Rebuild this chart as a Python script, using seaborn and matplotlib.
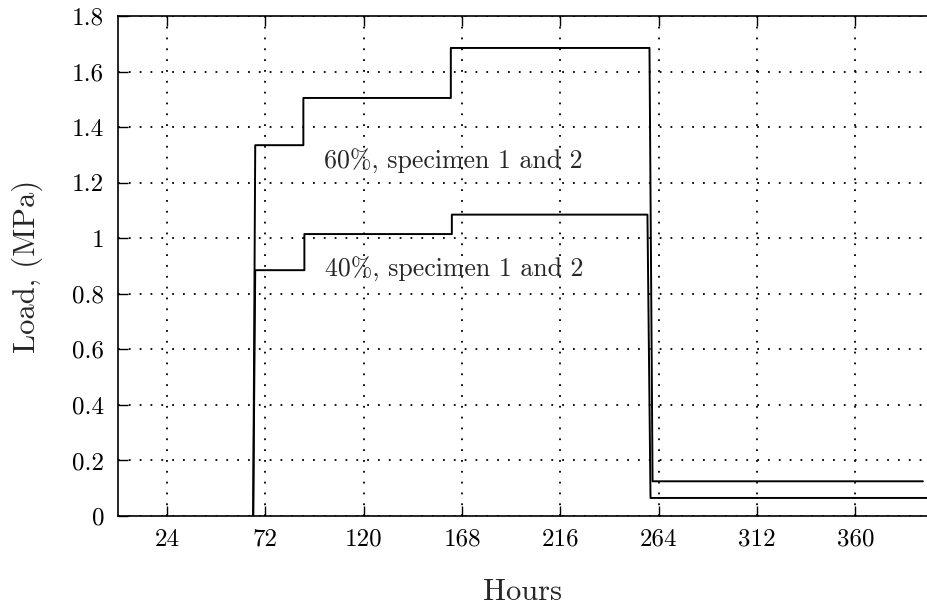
import matplotlib
matplotlib.use("Agg")
import matplotlib.pyplot as plt
import seaborn as sns
import pandas as pd

# ---- data ----
hours_60 = [66, 67, 90.5, 90.5, 162.5, 162.5, 259.5, 261, 393]
load_60 = [0.0, 1.335, 1.335, 1.505, 1.505, 1.685, 1.685, 0.125, 0.125]
hours_40 = [66, 67, 91, 91, 163, 163, 258.5, 260, 396]
load_40 = [0.0, 0.885, 0.885, 1.015, 1.015, 1.085, 1.085, 0.065, 0.065]

x_ticks = [24, 72, 120, 168, 216, 264, 312, 360]
y_ticks = [0, 0.2, 0.4, 0.6, 0.8, 1.0, 1.2, 1.4, 1.6, 1.8]
y_tick_labels = ["0", "0.2", "0.4", "0.6", "0.8", "1", "1.2", "1.4", "1.6", "1.8"]

label_60 = "60%, specimen 1 and 2"
label_40 = "40%, specimen 1 and 2"

sns.set_style("white")
plt.rcParams["font.family"] = ["cmr10", "DejaVu Serif"]
plt.rcParams["axes.formatter.use_mathtext"] = True
plt.rcParams["mathtext.fontset"] = "cm"

df = pd.concat([
    pd.DataFrame({"Hours": hours_60, "Load": load_60, "series": "60"}),
    pd.DataFrame({"Hours": hours_40, "Load": load_40, "series": "40"}),
])

fig = plt.figure(figsize=(9.27, 6.09), dpi=100)
ax = fig.add_axes([0.1273, 0.1527, 0.8727, 0.821])

for s in ["60", "40"]:
    sub = df[df.series == s]
    sns.lineplot(data=sub, x="Hours", y="Load", sort=False, estimator=None,
                 color="black", linewidth=1.4, ax=ax, legend=False)

ax.set_xlim(0, 395)
ax.set_ylim(0, 1.8)
ax.set_xticks(x_ticks)
ax.set_xticklabels([str(t) for t in x_ticks])
ax.set_yticks(y_ticks)
ax.set_yticklabels(y_tick_labels)

ax.grid(True, color="black", linestyle=(0, (1, 5)), linewidth=1.3)
ax.tick_params(axis="both", direction="in", length=7, width=1.0,
               labelsize=18, colors="black", top=True, right=False, left=True, bottom=True)
ax.tick_params(axis="x", pad=9)
ax.tick_params(axis="y", pad=10)
for side in ["left", "bottom", "top"]:
    ax.spines[side].set_visible(True)
    ax.spines[side].set_color("black")
    ax.spines[side].set_linewidth(1.2)
ax.spines["right"].set_visible(False)

ax.set_xlabel("Hours", fontsize=22, labelpad=20)
ax.set_ylabel("Load, (MPa)", fontsize=22, labelpad=21)

ax.text(100.5, 1.25, label_60, fontsize=18.6, va="baseline", ha="left")
ax.text(101, 0.861, label_40, fontsize=18.6, va="baseline", ha="left")

fig.savefig("out.png", dpi=100)
